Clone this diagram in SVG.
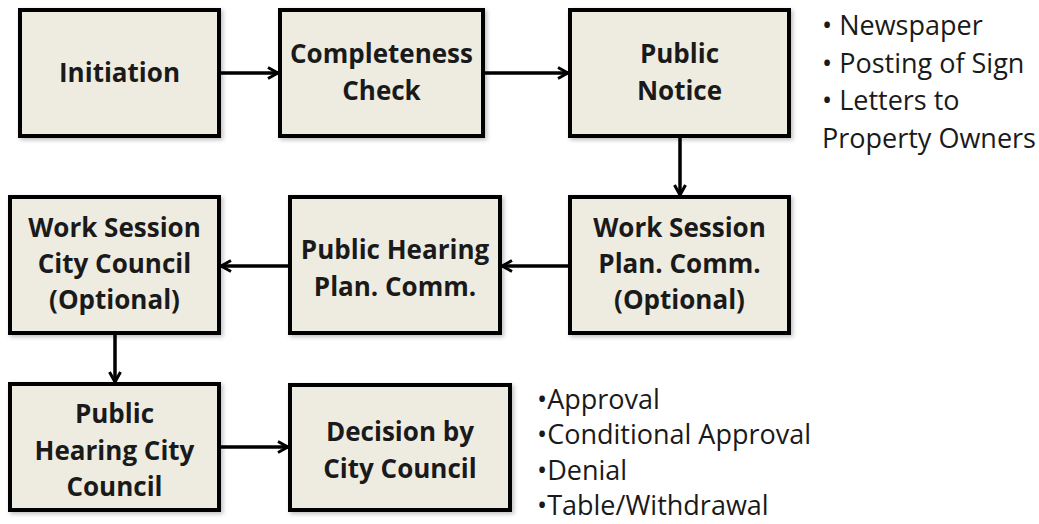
<svg xmlns="http://www.w3.org/2000/svg" width="1039" height="524" viewBox="0 0 1039 524">
<style>
.box{fill:#eeece1;stroke:#000;stroke-width:4}
.lbl{font-family:"Open Sans","Liberation Sans",sans-serif;font-weight:bold;font-size:26px;fill:#1a1a1a;text-anchor:middle}
.note{font-family:"Open Sans","Liberation Sans",sans-serif;font-size:27px;fill:#1a1a1a}
.con{stroke:#000;stroke-width:3.5;fill:none;marker-end:url(#ah)}
</style>
<defs>
<marker id="ah" viewBox="0 0 14 14" refX="12" refY="7" markerWidth="14" markerHeight="14" markerUnits="userSpaceOnUse" orient="auto">
<path d="M2,1.5 L12,7 L2,12.5" fill="none" stroke="#000" stroke-width="3"/>
</marker>
<filter id="sh" x="-10%" y="-10%" width="120%" height="120%">
<feDropShadow dx="2" dy="2" stdDeviation="2" flood-color="#000" flood-opacity="0.25"/>
</filter>
</defs>
<rect width="1039" height="524" fill="#fff"/>
<g id="connectors">
<line class="con" x1="221" y1="73" x2="278" y2="73"/>
<line class="con" x1="485" y1="73" x2="568" y2="73"/>
<line class="con" x1="680" y1="138" x2="680" y2="195"/>
<line class="con" x1="568" y1="266" x2="502" y2="266"/>
<line class="con" x1="288" y1="266" x2="221" y2="266"/>
<line class="con" x1="115" y1="335" x2="115" y2="382"/>
<line class="con" x1="221" y1="447" x2="288" y2="447"/>
</g>
<g id="initiation">
<rect class="box" x="20" y="10" width="199" height="126" filter="url(#sh)"/>
<text class="lbl" x="119.5" y="82">Initiation</text>
</g>
<g id="completeness">
<rect class="box" x="280" y="10" width="203" height="126" filter="url(#sh)"/>
<text class="lbl" x="381.5" y="63">Completeness</text>
<text class="lbl" x="381.5" y="100">Check</text>
</g>
<g id="public-notice">
<rect class="box" x="570" y="10" width="219" height="126" filter="url(#sh)"/>
<text class="lbl" x="679.5" y="63">Public</text>
<text class="lbl" x="679.5" y="100">Notice</text>
</g>
<g id="notice-list">
<text class="note" x="822" y="35">• Newspaper</text>
<text class="note" x="822" y="73">• Posting of Sign</text>
<text class="note" x="822" y="110">• Letters to</text>
<text class="note" x="822" y="148">Property Owners</text>
</g>
<g id="work-session-plan">
<rect class="box" x="570" y="197" width="219" height="136" filter="url(#sh)"/>
<text class="lbl" x="679.5" y="237">Work Session</text>
<text class="lbl" x="679.5" y="273">Plan. Comm.</text>
<text class="lbl" x="679.5" y="309">(Optional)</text>
</g>
<g id="public-hearing-plan">
<rect class="box" x="290" y="197" width="210" height="136" filter="url(#sh)"/>
<text class="lbl" x="395" y="259">Public Hearing</text>
<text class="lbl" x="395" y="296">Plan. Comm.</text>
</g>
<g id="work-session-council">
<rect class="box" x="10" y="197" width="209" height="136" filter="url(#sh)"/>
<text class="lbl" x="114.5" y="237">Work Session</text>
<text class="lbl" x="114.5" y="273">City Council</text>
<text class="lbl" x="114.5" y="309">(Optional)</text>
</g>
<g id="public-hearing-council">
<rect class="box" x="10" y="384" width="209" height="126" filter="url(#sh)"/>
<text class="lbl" x="114.5" y="423">Public</text>
<text class="lbl" x="114.5" y="460">Hearing City</text>
<text class="lbl" x="114.5" y="496">Council</text>
</g>
<g id="decision">
<rect class="box" x="290" y="385" width="220" height="125" filter="url(#sh)"/>
<text class="lbl" x="400" y="441">Decision by</text>
<text class="lbl" x="400" y="478">City Council</text>
</g>
<g id="decision-list">
<text class="note" x="537" y="409">•Approval</text>
<text class="note" x="537" y="444">•Conditional Approval</text>
<text class="note" x="537" y="480">•Denial</text>
<text class="note" x="537" y="515">•Table/Withdrawal</text>
</g>
</svg>
